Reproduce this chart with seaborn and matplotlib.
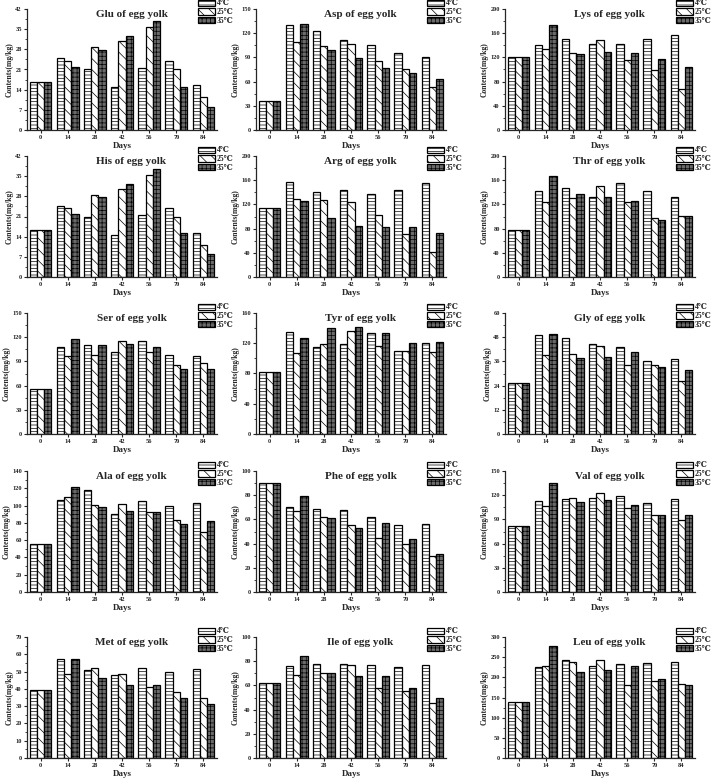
import matplotlib
matplotlib.use('Agg')
import matplotlib.pyplot as plt
import seaborn as sns
import pandas as pd
from matplotlib.patches import Patch
from matplotlib.ticker import AutoMinorLocator

# Storage days and temperatures
days = ['0', '14', '28', '42', '56', '70', '84']
temps = ['4℃', '25℃', '35℃']

# Amino acid contents (mg/kg), rows: 4℃, 25℃, 35℃
glu = [[16.5, 25, 21, 15, 21.5, 24, 15.5],
       [16.5, 24, 28.7, 30.8, 35.6, 21, 11.3],
       [16.5, 22, 27.9, 32.6, 38, 15, 8]]
asp = [[36, 130, 123, 111, 105, 95, 91],
       [36, 109, 104, 107, 85, 75, 53],
       [36, 131, 99, 89, 77, 71, 63]]
lys = [[120, 140, 150, 142, 142, 150, 157],
       [120, 134, 128, 148, 115, 99, 68],
       [120, 174, 125, 129, 127, 117, 104]]
his = [[16.2, 24.7, 20.8, 14.6, 21.6, 23.9, 15.3],
       [16.2, 23.8, 28.4, 30.4, 35.3, 20.9, 11.1],
       [16.2, 21.9, 27.6, 32.3, 37.6, 15.1, 8.1]]
arg = [[114, 157, 140, 144, 137, 143, 156],
       [114, 129, 128, 124, 103, 71, 42],
       [114, 126, 98, 85, 82, 82, 73]]
thr = [[78, 142, 147, 133, 156, 142, 133],
       [78, 124, 130, 150, 124, 98, 101],
       [78, 167, 138, 133, 126, 95, 101]]
ser = [[56, 108, 110, 102, 115, 98, 97],
       [56, 97, 98, 115, 102, 85, 88],
       [56, 118, 110, 111, 108, 81, 80]]
tyr = [[82, 135, 115, 119, 133, 110, 120],
       [82, 107, 119, 136, 117, 110, 108],
       [82, 127, 140, 142, 133, 120, 121]]
gly = [[25.5, 49, 47.5, 44.5, 43, 36, 37],
       [25.5, 39, 39.5, 43.5, 34, 34, 26.5],
       [25.5, 49.5, 37.5, 38, 40.5, 33, 31.5]]
ala = [[55, 106, 118, 90, 105, 99, 103],
       [55, 110, 101, 102, 92, 83, 70],
       [55, 122, 98, 94, 92, 79, 82]]
phe = [[90, 70, 68.5, 68, 62, 55.5, 56],
       [90, 67, 62, 55, 45, 40, 29.5],
       [90, 79, 61, 53, 57, 44, 31]]
val = [[82, 113, 115, 117, 119, 110, 115],
       [82, 107, 117, 123, 104, 96, 89],
       [82, 135, 112, 114, 108, 96, 95]]
met = [[39.5, 57, 51, 48, 52, 49.5, 51.5],
       [39.5, 48.5, 52, 48.5, 41, 38, 35],
       [39.5, 57.5, 46.5, 42, 42, 34.5, 31]]
ile = [[62, 76, 77.5, 78, 77, 75.5, 77],
       [62, 69, 70.5, 77, 57.5, 55.5, 45.5],
       [62, 84, 70.5, 67.5, 67.5, 58, 49.5]]
leu = [[138, 225, 242, 228, 234, 236, 237],
       [138, 227, 239, 244, 181, 190, 183],
       [138, 277, 214, 219, 227, 195, 181]]

titles = ['Glu', 'Asp', 'Lys', 'His', 'Arg', 'Thr', 'Ser', 'Tyr', 'Gly',
          'Ala', 'Phe', 'Val', 'Met', 'Ile', 'Leu']
values = [glu, asp, lys, his, arg, thr, ser, tyr, gly, ala, phe, val, met, ile, leu]
ymax = [42, 150, 200, 42, 200, 200, 150, 160, 60, 140, 100, 150, 70, 100, 300]
ystep = [7, 30, 40, 7, 40, 40, 30, 40, 12, 20, 20, 30, 10, 20, 50]

sns.set_theme(style='ticks')
plt.rcParams['font.family'] = ['Liberation Serif', 'DejaVu Serif', 'DejaVu Sans']
plt.rcParams['font.weight'] = 'bold'
plt.rcParams['hatch.linewidth'] = 0.5

colors = ['white', 'white', '#6a6a6a']
hatches = ['-----', '\\\\\\', '++++']

W, H = 719, 781
col_left = [27, 256, 505]
row_top = [9, 156, 313, 471, 637]
aw, ah = 190, 121

fig = plt.figure(figsize=(W / 100, H / 100), dpi=100)

for i, (name, vals) in enumerate(zip(titles, values)):
    r, c = divmod(i, 3)
    ax = fig.add_axes([col_left[c] / W, 1 - (row_top[r] + ah) / H, aw / W, ah / H])
    df = pd.DataFrame({
        'Days': days * 3,
        'Temp': [t for t in temps for _ in days],
        'Contents': [v for row in vals for v in row],
    })
    sns.barplot(data=df, x='Days', y='Contents', hue='Temp', hue_order=temps,
                palette=colors, saturation=1, edgecolor='black', linewidth=0.9,
                width=0.8, legend=False, ax=ax)
    for cont, h in zip(ax.containers, hatches):
        for bar in cont:
            bar.set_hatch(h)

    sns.despine(ax=ax)
    ax.set_ylim(0, ymax[i])
    ax.set_yticks(range(0, ymax[i] + 1, ystep[i]))
    ax.yaxis.set_minor_locator(AutoMinorLocator(2))
    ax.tick_params(axis='both', labelsize=4.6, length=2.5, width=0.8, pad=1.2)
    ax.tick_params(axis='y', which='minor', length=1.5, width=0.6)
    for s in ['left', 'bottom']:
        ax.spines[s].set_linewidth(0.9)
    ax.set_xlabel('Days', fontsize=6.5, fontweight='bold', labelpad=1)
    ax.set_ylabel('Contents(mg/kg)', fontsize=5.5, fontweight='bold', labelpad=1)
    ax.text(0.55, 0.99, f'{name} of egg yolk', transform=ax.transAxes,
            ha='center', va='top', fontsize=8, fontweight='bold')

    handles = [Patch(facecolor=fc, edgecolor='black', hatch=h, linewidth=0.9, label=t)
               for fc, h, t in zip(colors, hatches, temps)]
    ax.legend(handles=handles, loc='upper left', bbox_to_anchor=(0.9, 1.08),
              frameon=False, fontsize=5.5, handlelength=2.2, handleheight=0.9,
              labelspacing=0.1, borderaxespad=0, handletextpad=0.3, borderpad=0)

fig.savefig('out.png', dpi=100)
